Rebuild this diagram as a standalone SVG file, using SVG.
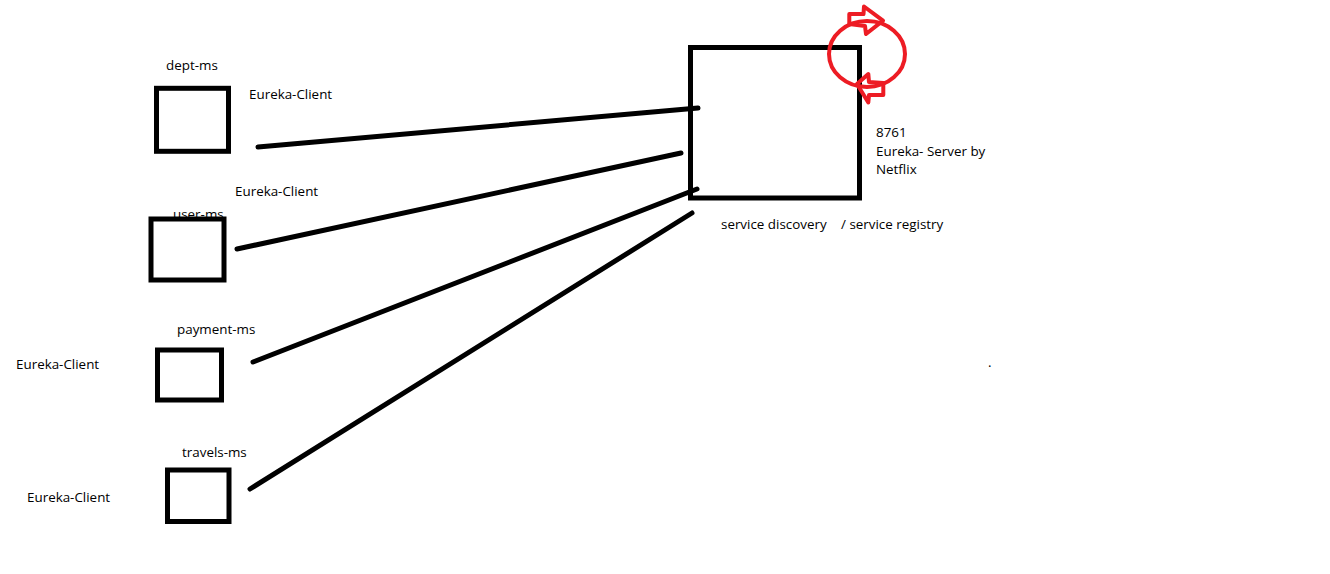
<svg xmlns="http://www.w3.org/2000/svg" width="1330" height="574" viewBox="0 0 1330 574">
<style>
text{font-family:"Open Sans","Noto Sans","Liberation Sans",sans-serif;font-size:13.4px;fill:#000}
.box{fill:none;stroke:#000;stroke-width:5}
.conn{stroke:#000;stroke-width:5;stroke-linecap:round;fill:none}
.red{fill:none;stroke:#ed1c24;stroke-width:4;stroke-linejoin:round}
</style>
<rect width="1330" height="574" fill="#fff"/>
<g id="dept-ms">
<text x="166" y="70">dept-ms</text>
<text x="249" y="99">Eureka-Client</text>
<rect class="box" x="156.5" y="88.3" width="72" height="63"/>
</g>
<g id="user-ms">
<text x="235" y="196">Eureka-Client</text>
<text x="173" y="219">user-ms</text>
<rect class="box" x="151" y="219" width="73" height="61"/>
</g>
<g id="payment-ms">
<text x="177" y="334">payment-ms</text>
<text x="16" y="369">Eureka-Client</text>
<rect class="box" x="157.5" y="350" width="64" height="50"/>
</g>
<g id="travels-ms">
<text x="182" y="457">travels-ms</text>
<text x="27" y="502">Eureka-Client</text>
<rect class="box" x="167.5" y="470" width="61.5" height="51.5"/>
</g>
<g id="eureka-server">
<rect class="box" x="690.5" y="47.5" width="169" height="150.5"/>
<text x="876" y="137">8761</text>
<text x="876" y="156">Eureka- Server by</text>
<text x="876" y="174">Netflix</text>
<text x="721" y="229">service discovery</text>
<text x="841" y="229">/ service registry</text>
<ellipse class="red" cx="867" cy="54" rx="38" ry="33"/>
<polygon class="red" points="849.3,14 863.5,14 864,6.5 883,20.7 866,34 865,26 849.3,24"/>
<polygon class="red" points="857,84 868.3,74 869,82 883.3,83 883.3,95 869,95 868.3,102.5"/>
</g>
<text x="988" y="367">.</text>
<g id="connectors">
<line class="conn" x1="258" y1="147" x2="698" y2="108"/>
<line class="conn" x1="237" y1="249" x2="681" y2="153"/>
<line class="conn" x1="253" y1="362" x2="697" y2="189"/>
<line class="conn" x1="250" y1="489" x2="692" y2="213"/>
</g>
</svg>
